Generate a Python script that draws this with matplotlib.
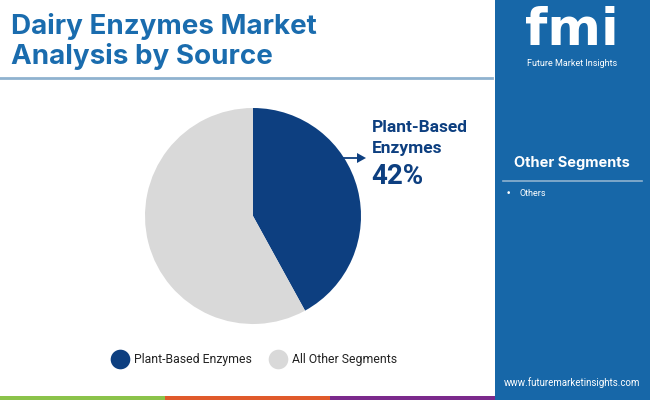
import matplotlib.pyplot as plt
from matplotlib.patches import Rectangle, FancyArrow

# chart data
labels = ['Plant-Based Enzymes', 'All Other Segments']
shares = [42, 58]
colors = ['#0d3f80', '#d9d9d9']
other_segments = ['Others']

W, H = 650, 400
fig = plt.figure(figsize=(6.5, 4), dpi=100)
bg = fig.add_axes([0, 0, 1, 1])
bg.set_xlim(0, W)
bg.set_ylim(H, 0)
bg.axis('off')

# title
bg.text(11, 26, 'Dairy Enzymes Market', fontsize=20, fontweight='bold',
        color='#1a6cae', family='Inter', va='center')
bg.text(11, 56, 'Analysis by Source', fontsize=20, fontweight='bold',
        color='#1a6cae', family='Inter', va='center')
bg.plot([0, 492], [78, 78], color='#8fb2cf', lw=2)

# bottom colour strip
for x0, c in zip([0, 165, 330], ['#8bc34a', '#e05a2b', '#7b2a8c']):
    bg.add_patch(Rectangle((x0, 396), 165, 4, color=c, lw=0))

# right panel
bg.add_patch(Rectangle((495, 0), 155, 400, color='#1767a8', lw=0))
bg.text(572, 31, 'fmi', fontsize=37, fontweight='bold', color='white',
        family='DejaVu Sans', ha='center', va='center')
bg.text(572, 64, 'Future Market Insights', fontsize=6.5, color='white',
        family='Roboto', ha='center', va='center')
bg.text(572, 163, 'Other Segments', fontsize=10.5, fontweight='bold',
        color='white', family='Inter', ha='center', va='center')
bg.plot([503, 642], [181, 181], color='#8fb2cf', lw=1.2)
for i, s in enumerate(other_segments):
    bg.text(506, 193 + i * 14, '•', fontsize=6.5, color='white', va='center')
    bg.text(519, 193 + i * 14, s, fontsize=6.5, color='white',
            family='Roboto', va='center')
bg.text(572, 383, 'www.futuremarketinsights.com', fontsize=7, color='white',
        family='Roboto', ha='center', va='center')

# pie
pie_ax = fig.add_axes([145 / W, 1 - 324 / H, 216 / W, 216 / H])
pie_ax.pie(shares, colors=colors, startangle=90, counterclock=False,
           wedgeprops={'linewidth': 0})
pie_ax.set_xlim(-1, 1)
pie_ax.set_ylim(-1, 1)
pie_ax.set_aspect('equal')

# callout
bg.add_patch(FancyArrow(343, 158, 14, 0, width=1.8, head_width=10,
                        head_length=9, color='#0d3f80', lw=0))
bg.text(372, 128, 'Plant-Based', fontsize=12.5, fontweight='bold',
        color='#0d3f80', family='Roboto', va='center')
bg.text(372, 148, 'Enzymes', fontsize=12.5, fontweight='bold',
        color='#0d3f80', family='Roboto', va='center')
bg.text(371, 176, f'{shares[0]}%', fontsize=20, fontweight='bold',
        color='#0d3f80', family='Roboto', va='center')

# legend
for x, lab, c in zip([120, 278], labels, colors):
    bg.scatter([x], [359], s=200, color=c, lw=0)
    bg.text(x + 14, 359, lab, fontsize=8.8, color='#222222',
            family='Roboto', va='center')

fig.savefig('out.png', dpi=100)
